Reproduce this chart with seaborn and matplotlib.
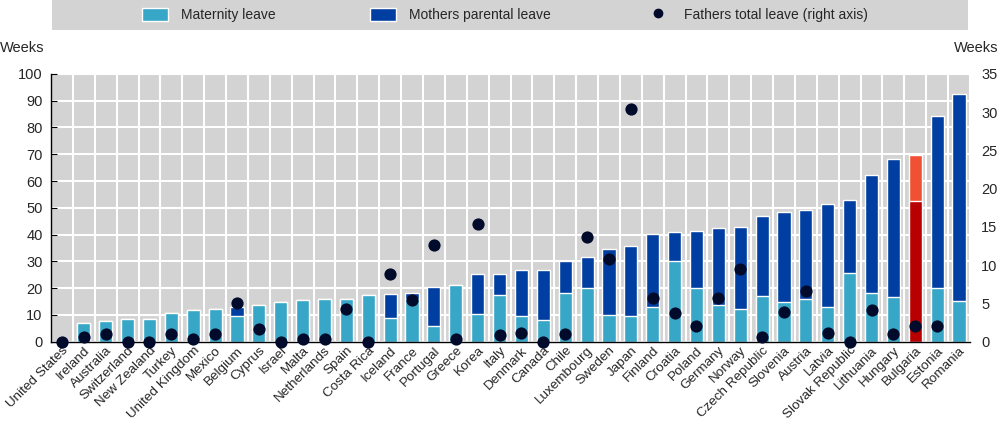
import numpy as np
import pandas as pd
import seaborn as sns
from matplotlib import pyplot as plt
from matplotlib.patches import Patch, Rectangle
from matplotlib.lines import Line2D

countries = ['United States', 'Ireland', 'Australia', 'Switzerland', 'New Zealand',
             'Turkey', 'United Kingdom', 'Mexico', 'Belgium', 'Cyprus', 'Israel',
             'Malta', 'Netherlands', 'Spain', 'Costa Rica', 'Iceland', 'France',
             'Portugal', 'Greece', 'Korea', 'Italy', 'Denmark', 'Canada', 'Chile',
             'Luxembourg', 'Sweden', 'Japan', 'Finland', 'Croatia', 'Poland',
             'Germany', 'Norway', 'Czech Republic', 'Slovenia', 'Austria', 'Latvia',
             'Slovak Republic', 'Lithuania', 'Hungary', 'Bulgaria', 'Estonia', 'Romania']
maternity = [0, 7.0, 7.7, 8.4, 8.5, 10.7, 11.9, 12.2, 9.6, 13.6, 15.0,
             15.7, 16.1, 16.1, 17.3, 9.0, 16.0, 6.0, 21.2, 10.4, 17.3, 9.6,
             8.0, 18.1, 20.1, 10.1, 9.5, 13.1, 30.1, 20.1, 13.8, 12.2, 17.1,
             15.0, 16.0, 12.9, 25.6, 18.1, 16.8, 52.7, 20.1, 15.3]
# maternity + mothers parental leave
total_mothers = [0, 7.0, 7.7, 8.4, 8.5, 10.7, 11.9, 12.2, 13.1, 13.6, 15.0,
                 15.7, 16.1, 16.1, 17.3, 17.7, 18.1, 20.5, 21.2, 25.2, 25.2, 26.6,
                 26.6, 30.1, 31.7, 34.7, 35.7, 40.4, 40.9, 41.5, 42.5, 43.0, 46.9,
                 48.4, 49.3, 51.6, 53.0, 62.1, 68.2, 69.7, 84.4, 92.4]
fathers = [0, 0.6, 1.0, 0, 0, 1.0, 0.4, 1.0, 5.0, 1.6, 0,
           0.3, 0.4, 4.3, 0, 8.9, 5.5, 12.6, 0.4, 15.4, 0.9, 1.1,
           0, 1.0, 13.7, 10.8, 30.4, 5.7, 3.7, 2.0, 5.7, 9.5, 0.6,
           3.9, 6.6, 1.2, 0, 4.1, 1.0, 2.0, 2.0, np.nan]

c_mat = '#38A6C7'
c_par = '#003FA1'
c_dot = '#000A2B'
c_bg = '#D3D3D3'
fs = 10.5

df = pd.DataFrame({'country': countries, 'maternity': maternity,
                   'total': total_mothers, 'fathers': fathers})

sns.set_style('darkgrid', {'axes.facecolor': c_bg, 'grid.color': 'white'})
plt.rcParams['font.family'] = ['Liberation Sans', 'DejaVu Sans']
plt.rcParams['font.size'] = fs

pal_total = {c: c_par for c in countries}
pal_total['Bulgaria'] = '#F05033'
pal_mat = {c: c_mat for c in countries}
pal_mat['Bulgaria'] = '#B90000'

fig = plt.figure(figsize=(10, 4.25), dpi=100)
ax = fig.add_axes([0.051, 0.196, 0.919, 0.630])

sns.barplot(data=df, x='country', y='total', hue='country', order=countries,
            palette=pal_total, saturation=1, width=0.6, legend=False, ax=ax)
sns.barplot(data=df, x='country', y='maternity', hue='country', order=countries,
            palette=pal_mat, saturation=1, width=0.6, legend=False, ax=ax)

ax.set_ylim(0, 100)
ax.set_yticks(range(0, 101, 10))
ax.set_xlim(-0.5, len(countries) - 0.5)
ax.set_xticks(np.arange(-0.5, len(countries), 1), minor=True)
ax.grid(True, which='minor', axis='x', color='white', lw=1.5)
ax.grid(True, which='major', axis='y', color='white', lw=1.5)
ax.grid(False, which='major', axis='x')
ax.set_axisbelow(True)
ax.set_xlabel('')
ax.set_ylabel('')
for s in ['top', 'right']:
    ax.spines[s].set_visible(False)
for s in ['left', 'bottom']:
    ax.spines[s].set_visible(True)
    ax.spines[s].set_color('black')
    ax.spines[s].set_linewidth(1)
ax.tick_params(axis='y', which='major', direction='in', length=4, color='black',
               left=True, labelsize=fs, pad=6)
ax.tick_params(axis='x', which='both', length=0, labelsize=9.7, pad=2)
plt.setp(ax.get_xticklabels(), rotation=45, ha='right', rotation_mode='anchor')

ax2 = ax.twinx()
sns.stripplot(data=df, x='country', y='fathers', order=countries, jitter=False,
              color=c_dot, size=8.8, ax=ax2)
ax2.set_ylim(0, 35)
ax2.set_yticks(range(0, 36, 5))
ax2.set_xlim(-0.5, len(countries) - 0.5)
ax2.grid(False)
ax2.set_ylabel('')
for s in ax2.spines.values():
    s.set_visible(False)
ax2.tick_params(axis='y', length=0, labelsize=fs, pad=8)
for coll in ax2.collections:
    coll.set_clip_on(False)

fig.text(0.0, 0.887, 'Weeks', fontsize=fs, va='center', ha='left')
fig.text(0.998, 0.887, 'Weeks', fontsize=fs, va='center', ha='right')

fig.patches.append(Rectangle((0.052, 0.93), 0.916, 0.07, transform=fig.transFigure,
                             facecolor=c_bg, edgecolor='none', zorder=0))
handles = [Patch(facecolor=c_mat, label='Maternity leave'),
           Patch(facecolor=c_par, label='Mothers parental leave'),
           Line2D([], [], marker='o', ls='', color=c_dot, markersize=6,
                  label='Fathers total leave (right axis)')]
fig.legend(handles=handles, loc='center', bbox_to_anchor=(0.505, 0.965), ncol=3,
           frameon=False, fontsize=10, handlelength=1.9, handleheight=1.1,
           columnspacing=6.8, handletextpad=0.9)

fig.savefig('out.png', dpi=100)
